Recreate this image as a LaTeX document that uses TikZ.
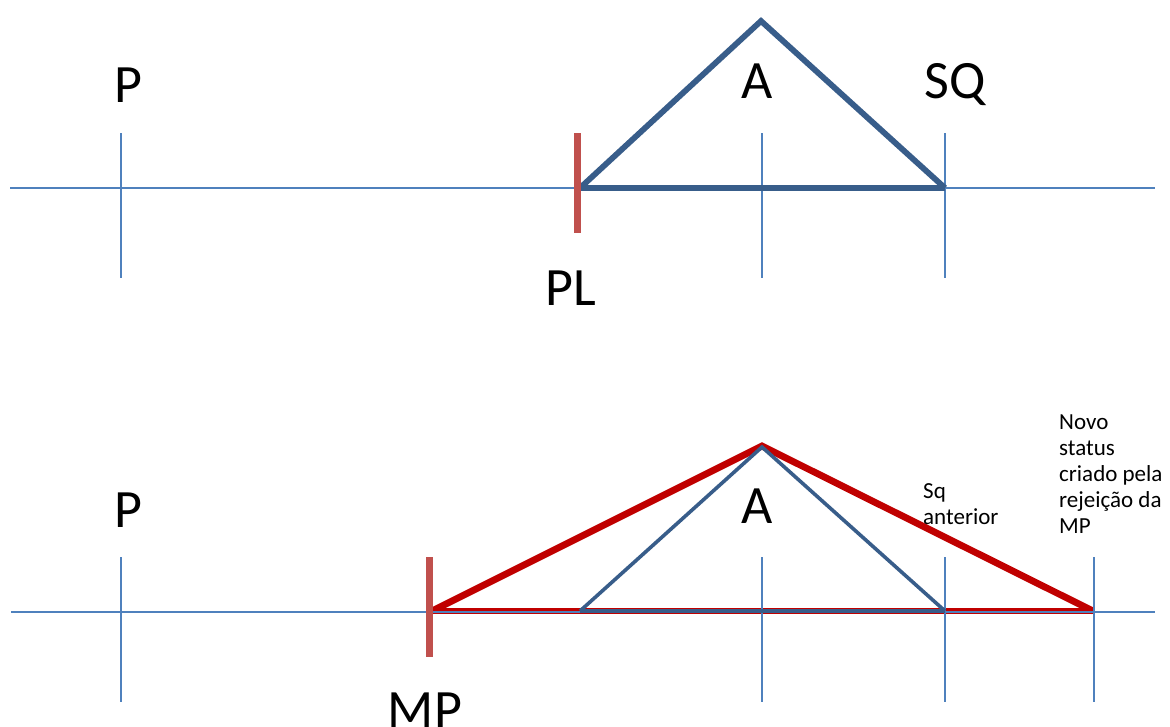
\documentclass[tikz,border=0pt]{standalone}
\usepackage{fontspec}
\setmainfont{Carlito}
\definecolor{axisblue}{HTML}{4F81BD}
\definecolor{triblue}{HTML}{385D8A}
\definecolor{barred}{HTML}{C0504D}
\definecolor{darkred}{HTML}{C00000}
\begin{document}
\begin{tikzpicture}[x=1pt,y=-1pt,
  axisline/.style={draw=axisblue,line width=1.8pt},
  tickline/.style={draw=axisblue,line width=1.6pt},
  barline/.style={draw=barred,line width=7pt},
  bigtri/.style={draw=triblue,line width=5.8pt,line join=miter},
  thintri/.style={draw=triblue,line width=3.6pt,line join=miter},
  redtri/.style={draw=darkred,line width=6.8pt,line join=miter},
  redbase/.style={draw=darkred,line width=6pt},
  biglabel/.style={font=\fontsize{54}{60}\selectfont,anchor=base,inner sep=0pt},
  smalllabel/.style={font=\fontsize{23}{26}\selectfont,anchor=north west,align=left,inner sep=0pt}]
\useasboundingbox (0,0) rectangle (1170,726);

% ---------- top diagram ----------
\coordinate (tL) at (10,188);
\coordinate (tR) at (1155,188);
\coordinate (tP1) at (121,133); \coordinate (tP2) at (121,278);
\coordinate (tA1) at (762,133); \coordinate (tA2) at (762,278);
\coordinate (tS1) at (945,133); \coordinate (tS2) at (945,278);
\coordinate (tB1) at (577,133); \coordinate (tB2) at (577,233);
\coordinate (tV1) at (580,188);
\coordinate (tV2) at (761,21);
\coordinate (tV3) at (945,188);

\draw[axisline] (tL) -- (tR);
\draw[tickline] (tP1) -- (tP2);
\draw[tickline] (tA1) -- (tA2);
\draw[tickline] (tS1) -- (tS2);
\draw[bigtri] (tV1) -- (tV2) -- (tV3);
\draw[bigtri] (tV1) -- (tV3);
\draw[barline] (tB1) -- (tB2);

\node[biglabel] (lP1) at (128,102) {P};
\node[biglabel] (lA1) at (757,98) {A};
\node[biglabel] (lSQ) at (955,98) {SQ};
\node[biglabel] (lPL) at (571,305) {PL};

% ---------- bottom diagram ----------
\coordinate (bL) at (11,612);
\coordinate (bR) at (1155,612);
\coordinate (bP1) at (121,557); \coordinate (bP2) at (121,702);
\coordinate (bA1) at (762,557); \coordinate (bA2) at (762,702);
\coordinate (bS1) at (945,557); \coordinate (bS2) at (945,702);
\coordinate (bN1) at (1094,557); \coordinate (bN2) at (1094,702);
\coordinate (bB1) at (429,557); \coordinate (bB2) at (429,657);
\coordinate (rV1) at (432,611);
\coordinate (rV2) at (762,446);
\coordinate (rV3) at (1093,611);
\coordinate (uV1) at (580,611);
\coordinate (uV2) at (762,447);
\coordinate (uV3) at (945,611);

\draw[redtri] (rV1) -- (rV2) -- (rV3);
\draw[redbase] (rV1) -- (rV3);
\draw[axisline] (bL) -- (bR);
\draw[tickline] (bP1) -- (bP2);
\draw[tickline] (bA1) -- (bA2);
\draw[tickline] (bS1) -- (bS2);
\draw[tickline] (bN1) -- (bN2);
\draw[thintri] (uV1) -- (uV2) -- (uV3);
\draw[thintri] (uV1) -- (uV3);
\draw[barline] (bB1) -- (bB2);

\node[biglabel] (lP2) at (128,527) {P};
\node[biglabel] (lA2) at (757,523) {A};
\node[biglabel] (lMP) at (425,727) {MP};
\node[smalllabel] (lSqa) at (923,483) {Sq\\anterior};
\node[smalllabel] (lNovo) at (1059,415) {Novo\\status\\criado pela\\rejeição da\\MP};
\end{tikzpicture}
\end{document}
